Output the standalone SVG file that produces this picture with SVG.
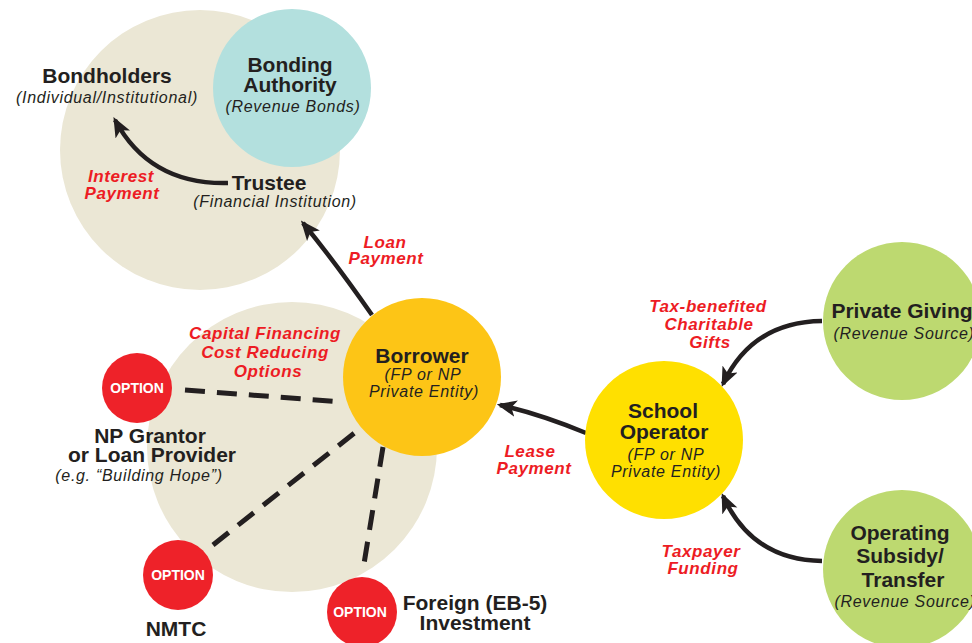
<svg xmlns="http://www.w3.org/2000/svg" width="972" height="643" viewBox="0 0 972 643">
<defs>
<marker id="ah" viewBox="0 0 12 10" refX="10" refY="5" markerWidth="4.4" markerHeight="3.8" orient="auto" markerUnits="strokeWidth">
<path d="M0,0 L12,5 L0,10 L3,5 z" fill="#231F20"/>
</marker>
</defs>
<style>
text{font-family:"Liberation Sans",Arial,sans-serif;fill:#231F20;text-anchor:middle}
.t{font-size:21px;font-weight:bold}
.s{font-size:16px;font-style:italic;letter-spacing:0.7px}
.r{font-size:17px;font-style:italic;font-weight:bold;fill:#ED1C24;letter-spacing:0.6px}
.o{font-size:14px;font-weight:bold;fill:#FFFFFF}
.arr{fill:none;stroke:#231F20;stroke-width:4.5;marker-end:url(#ah)}
.dash{fill:none;stroke:#231F20;stroke-width:5;stroke-dasharray:20 12}
</style>
<rect width="972" height="643" fill="#FFFFFF"/>
<g id="bg-groups">
<circle cx="200" cy="150" r="140" fill="#EBE7D5"/>
<circle cx="292" cy="447" r="145" fill="#EBE7D5"/>
</g>
<g id="bonding-authority">
<circle cx="292" cy="88" r="79" fill="#B3E0DE"/>
<text class="t" x="290" y="72">Bonding</text>
<text class="t" x="290" y="92">Authority</text>
<text class="s" x="293" y="112">(Revenue Bonds)</text>
</g>
<g id="bondholders">
<text class="t" x="107" y="83">Bondholders</text>
<text class="s" x="107" y="103">(Individual/Institutional)</text>
</g>
<g id="trustee">
<text class="t" x="269" y="190">Trustee</text>
<text class="s" x="275" y="207">(Financial Institution)</text>
</g>
<g id="connectors">
<path class="arr" d="M228,183 Q150,185 115,120"/>
<path class="arr" d="M372,315 Q335,262 303,223"/>
<path class="arr" d="M586,433 Q540,414 500,405"/>
<path class="arr" d="M822,321 Q752,322 723,384"/>
<path class="arr" d="M822,561 Q752,560 723,496"/>
<path class="dash" d="M185,390 L343,402"/>
<path class="dash" d="M213,545 L362,427"/>
<path class="dash" d="M383,447 L363,570"/>
</g>
<g id="labels">
<text class="r" x="121" y="182">Interest</text>
<text class="r" x="122" y="199">Payment</text>
<text class="r" x="385" y="248">Loan</text>
<text class="r" x="386" y="264">Payment</text>
<text class="r" x="530" y="457">Lease</text>
<text class="r" x="534" y="474">Payment</text>
<text class="r" x="708" y="312">Tax-benefited</text>
<text class="r" x="709" y="330">Charitable</text>
<text class="r" x="710" y="348">Gifts</text>
<text class="r" x="701" y="557">Taxpayer</text>
<text class="r" x="703" y="574">Funding</text>
<text class="r" x="265" y="339">Capital Financing</text>
<text class="r" x="265" y="358">Cost Reducing</text>
<text class="r" x="268" y="377">Options</text>
</g>
<g id="borrower">
<circle cx="422" cy="377" r="79" fill="#FDC516"/>
<text class="t" x="422" y="363">Borrower</text>
<text class="s" x="423" y="380">(FP or NP</text>
<text class="s" x="424" y="397">Private Entity)</text>
</g>
<g id="school-operator">
<circle cx="664" cy="440" r="79" fill="#FFE000"/>
<text class="t" x="663" y="418">School</text>
<text class="t" x="664" y="439">Operator</text>
<text class="s" x="666" y="460">(FP or NP</text>
<text class="s" x="666" y="477">Private Entity)</text>
</g>
<g id="private-giving">
<circle cx="902" cy="321" r="79" fill="#BDD970"/>
<text class="t" x="902" y="318">Private Giving</text>
<text class="s" x="904" y="339">(Revenue Source)</text>
</g>
<g id="operating-subsidy">
<circle cx="902" cy="569" r="79" fill="#BDD970"/>
<text class="t" x="900" y="540">Operating</text>
<text class="t" x="900" y="563">Subsidy/</text>
<text class="t" x="903" y="587">Transfer</text>
<text class="s" x="905" y="607">(Revenue Source)</text>
</g>
<g id="option-np-grantor">
<circle cx="137" cy="388" r="35" fill="#EE2229"/>
<text class="o" x="137" y="393">OPTION</text>
<text class="t" x="150" y="443">NP Grantor</text>
<text class="t" x="152" y="462">or Loan Provider</text>
<text class="s" x="139" y="481">(e.g. “Building Hope”)</text>
</g>
<g id="option-nmtc">
<circle cx="178" cy="575" r="35" fill="#EE2229"/>
<text class="o" x="178" y="580">OPTION</text>
<text class="t" x="176" y="636">NMTC</text>
</g>
<g id="option-eb5">
<circle cx="362" cy="612" r="35" fill="#EE2229"/>
<text class="o" x="360" y="617">OPTION</text>
<text class="t" x="475" y="610">Foreign (EB-5)</text>
<text class="t" x="475" y="630">Investment</text>
</g>
</svg>
